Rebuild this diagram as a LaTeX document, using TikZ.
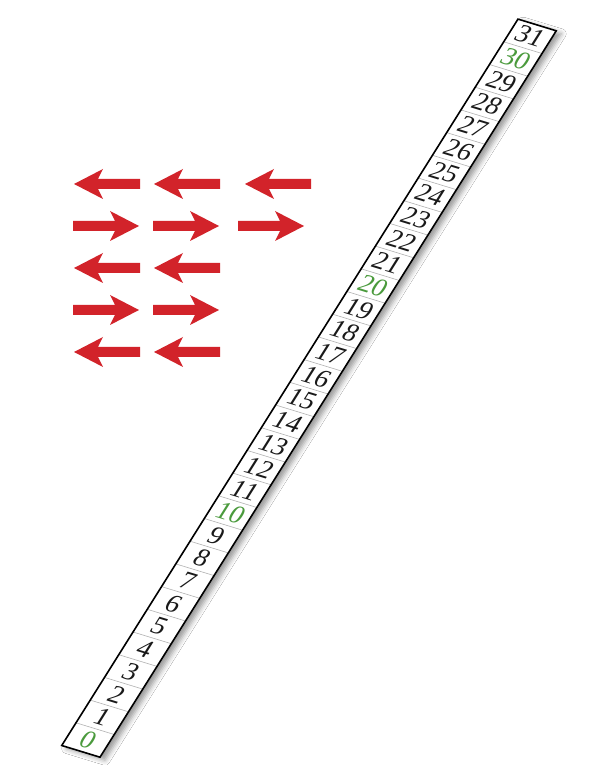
\documentclass[tikz,border=0pt]{standalone}
\usepackage{fontspec}
\setmainfont{Liberation Serif}
\usetikzlibrary{shadows.blur}
\definecolor{arrowred}{HTML}{D2232A}
\definecolor{numgreen}{HTML}{4A9A3C}
\tikzset{
  redarrow/.pic={\fill[arrowred] (0,0) -- (29,15) -- (24,5) -- (66,5) -- (66,-5) -- (24,-5) -- (29,-15) -- cycle;},
  numstyle/.style={transform shape, inner sep=0pt, font=\fontsize{27}{27}\selectfont},
  divider/.style={draw=gray!60, line width=0.6pt},
  stripborder/.style={draw=black, line width=1.6pt}
}
\begin{document}
\begin{tikzpicture}[x=1pt,y=1pt]
\useasboundingbox (0,0) rectangle (600,775);
\fill[white] (0,0) rectangle (600,775);
% arrows
\foreach \y in {591,507,423}{
  \pic at (74,\y) {redarrow};
  \pic at (154,\y) {redarrow};
}
\pic at (245,591) {redarrow};
\foreach \y in {549,465}{
  \pic[xscale=-1] at (139,\y) {redarrow};
  \pic[xscale=-1] at (219,\y) {redarrow};
}
\pic[xscale=-1] at (304,549) {redarrow};
% strip shadow
\fill[white, blur shadow={shadow xshift=5pt, shadow yshift=-3pt, shadow opacity=40, shadow blur radius=5pt}]
  (61.74,29.49) -- (100.0,17.8) -- (556.2,744.2) -- (517.9,755.9) -- cycle;
% strip
\begin{scope}[cm={0.9564,-0.2922,0.532,0.847,(61.74,29.49)}]
  \foreach \i in {1,...,31}{
    \draw[divider] (0,{\i*26.8}) -- (40,{\i*26.8});
  }
  \foreach \i in {0,...,31}{
    \pgfmathtruncatemacro{\m}{mod(\i,10)}
    \ifnum\m=0 \def\col{numgreen}\else\def\col{black!90}\fi
    \node[numstyle, text=\col] (c\i) at (20,{(\i+0.5)*26.8}) {\i};
  }
  \draw[stripborder] (0,0) rectangle (40,857.6);
\end{scope}
\end{tikzpicture}
\end{document}
